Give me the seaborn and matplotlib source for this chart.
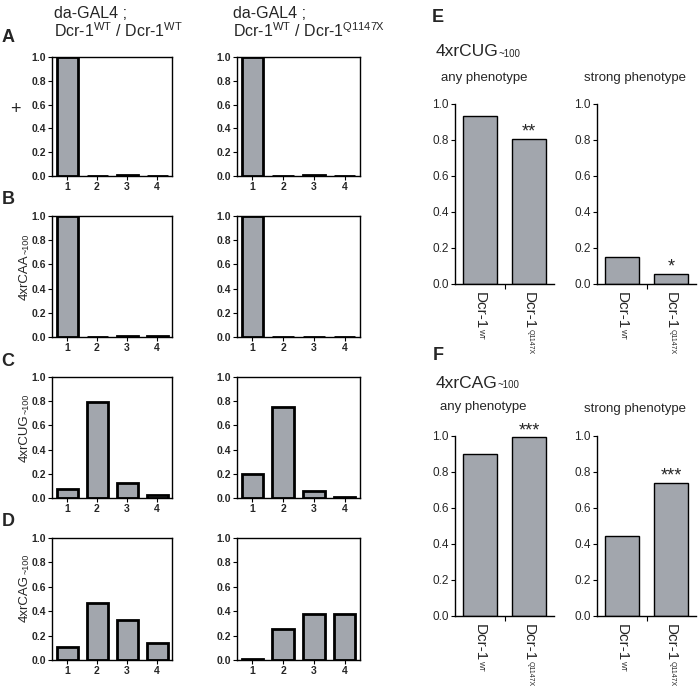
import matplotlib
matplotlib.use("Agg")
import matplotlib.pyplot as plt
from matplotlib.text import Annotation
import seaborn as sns

# ---- data -------------------------------------------------------------
classes = ["1", "2", "3", "4"]

# fraction of flies per phenotypic class (left two columns)
plus_wt = [1.0, 0.0, 0.012, 0.0]
plus_q1147x = [1.0, 0.004, 0.006, 0.004]
caa_wt = [1.0, 0.0, 0.01, 0.01]
caa_q1147x = [1.0, 0.004, 0.004, 0.004]
cug_wt = [0.074, 0.79, 0.127, 0.025]
cug_q1147x = [0.20, 0.756, 0.058, 0.005]
cag_wt = [0.105, 0.465, 0.327, 0.14]
cag_q1147x = [0.01, 0.256, 0.374, 0.38]

# genotype labels: (main text, subscript)
genotypes = [("Dcr-1", "WT"), ("Dcr-1", "Q1147X")]
cug_any = [0.931, 0.807]
cug_strong = [0.148, 0.056]
cag_any = [0.902, 0.993]
cag_strong = [0.445, 0.741]
cug_any_sig = ["", "**"]
cug_strong_sig = ["", "*"]
cag_any_sig = ["", "***"]
cag_strong_sig = ["", "***"]

row_labels = [("4xrCAA", "~100"), ("4xrCUG", "~100"), ("4xrCAG", "~100")]
panel_letters = ["A", "B", "C", "D"]

# ---- style ------------------------------------------------------------
sns.set_style("white")
plt.rcParams["font.family"] = ["Liberation Sans", "DejaVu Sans"]
plt.rcParams["mathtext.default"] = "regular"

W, H = 699, 689
BAR = "#a2a6ad"

fig = plt.figure(figsize=(W / 100, H / 100), dpi=100)


def rect(x0, y0, x1, y1):
    return [x0 / W, 1 - y1 / H, (x1 - x0) / W, (y1 - y0) / H]


def ftext(x, y, s, **kw):
    return fig.text(x / W, 1 - y / H, s, **kw)


def add_sub(parent, s, xy, size, **kw):
    # small subscript glued to another text artist
    ann = Annotation(s, xy=xy, xycoords=parent, fontsize=size,
                     annotation_clip=False, **kw)
    fig.add_artist(ann)
    return ann


def left_panel(box, values):
    ax = fig.add_axes(rect(*box))
    sns.barplot(x=classes, y=values, color=BAR, saturation=1, edgecolor="black",
                linewidth=2.0, width=0.7, ax=ax)
    ax.set_ylim(0, 1.0)
    ax.set_xlim(-0.5, 3.5)
    ax.set_yticks([0, 0.2, 0.4, 0.6, 0.8, 1.0])
    ax.set_yticklabels(["0.0", "0.2", "0.4", "0.6", "0.8", "1.0"])
    for sp in ax.spines.values():
        sp.set_visible(True)
        sp.set_color("black")
        sp.set_linewidth(1.0)
    ax.tick_params(axis="both", which="major", direction="out", length=3, width=0.8,
                   color="black", labelsize=7.5, pad=1.5, bottom=True, left=True)
    for lab in ax.get_xticklabels() + ax.get_yticklabels():
        lab.set_fontweight("bold")
    ax.set_xlabel("")
    ax.set_ylabel("")
    return ax


def right_panel(box, values, sig):
    ax = fig.add_axes(rect(*box))
    sns.barplot(x=[0, 1], y=values, color=BAR, saturation=1, edgecolor="black",
                linewidth=1.0, width=0.68, ax=ax)
    ax.set_ylim(0, 1.0)
    ax.set_xlim(-0.5, 1.5)
    ax.set_yticks([0, 0.2, 0.4, 0.6, 0.8, 1.0])
    ax.set_yticklabels(["0.0", "0.2", "0.4", "0.6", "0.8", "1.0"])
    ax.set_xticks([])
    ax.set_xticks([0.5], minor=True)
    ax.tick_params(axis="x", which="minor", length=3.5, width=0.8, direction="out",
                   color="black", bottom=True)
    ax.tick_params(axis="y", length=3, width=0.8, direction="out", color="black",
                   labelsize=8.5, pad=1.5, left=True)
    for side in ["top", "right"]:
        ax.spines[side].set_visible(False)
    for side in ["left", "bottom"]:
        ax.spines[side].set_color("black")
        ax.spines[side].set_linewidth(1.0)
    for i, (main, sub) in enumerate(genotypes):
        t = ax.annotate(main, xy=(i, 0), xycoords=("data", "axes fraction"),
                        xytext=(0, -5.5), textcoords="offset points", rotation=-90,
                        ha="center", va="top", fontsize=11, annotation_clip=False)
        add_sub(t, sub, (0.3, 0.0), 5, rotation=-90, ha="left", va="top")
    for i, (v, s) in enumerate(zip(values, sig)):
        if s:
            ax.text(i, v + 0.012, s, ha="center", va="baseline", fontsize=13, clip_on=False)
    ax.set_xlabel("")
    ax.set_ylabel("")
    return ax


rows = [(57, 176), (216, 337), (377, 498), (538, 660)]
left_data = [(plus_wt, plus_q1147x), (caa_wt, caa_q1147x),
             (cug_wt, cug_q1147x), (cag_wt, cag_q1147x)]
for (y0, y1), (wt, mut) in zip(rows, left_data):
    left_panel((52, y0, 172, y1), wt)
    left_panel((237, y0, 360, y1), mut)

# column headers
ftext(54, 13, "da-GAL4 ;", fontsize=11.5, va="center", ha="left")
ftext(54, 31, "Dcr-1$^{\\mathregular{WT}}$ / Dcr-1$^{\\mathregular{WT}}$",
      fontsize=11.5, va="center", ha="left")
ftext(233, 13, "da-GAL4 ;", fontsize=11.5, va="center", ha="left")
ftext(233, 31, "Dcr-1$^{\\mathregular{WT}}$ / Dcr-1$^{\\mathregular{Q1147X}}$",
      fontsize=11.5, va="center", ha="left")

# panel letters and row labels
for letter, y in zip(panel_letters, [38, 200, 362, 521]):
    ftext(8, y, letter, fontsize=13, fontweight="bold", va="center", ha="center")
ftext(15, 110, "+", fontsize=13, va="center", ha="center")
for (main, sub), y in zip(row_labels, [277, 438, 598]):
    t = ftext(25, y, main, fontsize=9.5, rotation=90, va="center", ha="center")
    add_sub(t, sub, (0.95, 1.0), 6.5, rotation=90, ha="right", va="bottom")

# right panels
right_panel((455, 104, 554, 284), cug_any, cug_any_sig)
right_panel((597, 104, 696, 284), cug_strong, cug_strong_sig)
right_panel((455, 436, 554, 616), cag_any, cag_any_sig)
right_panel((597, 436, 696, 616), cag_strong, cag_strong_sig)

ftext(438, 17, "E", fontsize=13, fontweight="bold", va="center", ha="center")
ftext(438, 355, "F", fontsize=13, fontweight="bold", va="center", ha="center")
for (main, sub), y in [(("4xrCUG", "~100"), 52), (("4xrCAG", "~100"), 383)]:
    t = ftext(436, y, main, fontsize=12.5, va="center", ha="left")
    add_sub(t, sub, (1.0, 0.05), 7, ha="left", va="bottom")
ftext(441, 78, "any phenotype", fontsize=9.5, va="center", ha="left")
ftext(584, 78, "strong phenotype", fontsize=9.5, va="center", ha="left")
ftext(440, 407, "any phenotype", fontsize=9.5, va="center", ha="left")
ftext(584, 409, "strong phenotype", fontsize=9.5, va="center", ha="left")

fig.savefig("out.png", dpi=100)
